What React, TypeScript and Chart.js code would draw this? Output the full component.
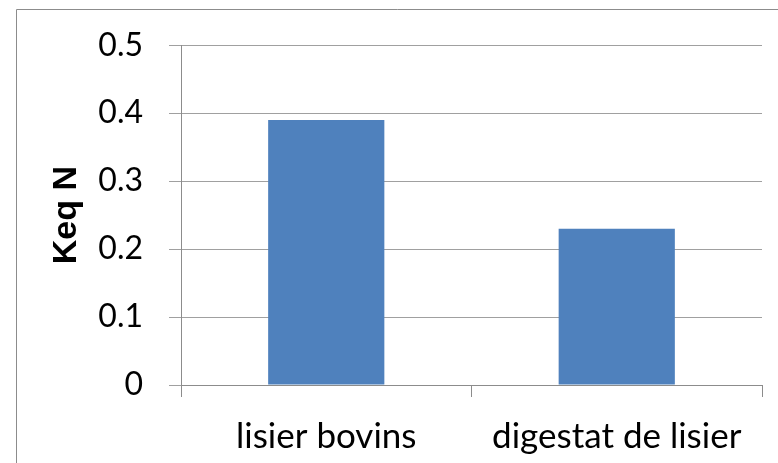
import React, { useEffect, useRef } from "react";
import { Chart, registerables } from "chart.js";

Chart.register(...registerables);

const categories = ["lisier bovins", "digestat de lisier"];
const values = [0.39, 0.23];
const yTitle = "Keq N";

const framePlugin = {
  id: "frame",
  afterDraw(chart: any) {
    const ctx = chart.ctx;
    ctx.save();
    ctx.strokeStyle = "#8c8c8c";
    ctx.lineWidth = 1;
    ctx.beginPath();
    ctx.moveTo(16.5, chart.height);
    ctx.lineTo(16.5, 9.5);
    ctx.lineTo(chart.width, 9.5);
    ctx.stroke();
    ctx.restore();
  },
};

export default function App() {
  const ref = useRef<HTMLCanvasElement>(null);
  useEffect(() => {
    const chart = new Chart(ref.current!, {
      type: "bar",
      data: {
        labels: categories,
        datasets: [
          {
            data: values,
            backgroundColor: "#4F81BD",
            barPercentage: 0.4,
            categoryPercentage: 1,
          },
        ],
      },
      options: {
        animation: false,
        responsive: false,
        maintainAspectRatio: false,
        layout: { padding: { left: 0, top: 43, right: 16, bottom: 0 } },
        plugins: { legend: { display: false }, tooltip: { enabled: false } },
        scales: {
          x: {
            afterFit: (s: any) => {
              s.height = 78;
            },
            border: { color: "#8c8c8c", width: 1 },
            grid: {
              offset: true,
              drawOnChartArea: false,
              tickLength: 12,
              color: "#8c8c8c",
            },
            ticks: {
              color: "#000",
              padding: 19,
              font: { family: "Lato", size: 35 },
            },
          },
          y: {
            min: 0,
            max: 0.5,
            afterFit: (s: any) => {
              s.width = 181;
            },
            border: { color: "#8c8c8c", width: 1 },
            grid: { color: "#a0a0a0", tickLength: 12, lineWidth: 1 },
            ticks: {
              stepSize: 0.1,
              color: "#000",
              padding: 26,
              font: { family: "Lato", size: 32 },
              callback: (v: any) => String(Math.round(Number(v) * 10) / 10),
            },
            title: {
              display: true,
              text: yTitle,
              color: "#000",
              padding: { top: 46, bottom: 0 },
              font: { family: "'Liberation Sans', Arial, sans-serif", size: 34, weight: "bold" },
            },
          },
        },
      },
      plugins: [framePlugin],
    });
    return () => chart.destroy();
  }, []);
  return (
    <div style={{ position: "absolute", left: 0, top: 0, width: 778, height: 463, background: "#fff" }}>
      <canvas ref={ref} width={778} height={463} style={{ display: "block" }} />
    </div>
  );
}
